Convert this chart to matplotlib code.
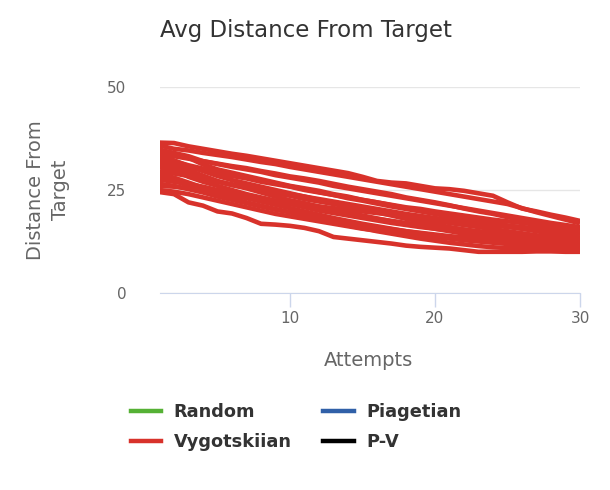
#!/usr/bin/env python3

import matplotlib
matplotlib.use('agg')

import numpy as np
import matplotlib.pyplot as plt

attempts = list(range(1, 31))

# one run per list, all Vygotskiian (the other series are empty)
vygotskiian_runs = [
	[36.5, 36.4, 35.6, 35.0, 34.4, 33.8, 33.3, 32.7, 32.1, 31.5, 30.9, 30.3, 29.7, 29.1, 28.2,
	 27.2, 26.8, 26.6, 26.0, 25.4, 25.2, 24.8, 24.2, 23.6, 22.0, 20.5, 19.8, 19.0, 18.3, 17.5],
	[35.8, 35.0, 34.6, 34.0, 33.5, 33.0, 32.4, 31.8, 31.3, 30.6, 30.0, 29.4, 28.8, 28.2, 27.6,
	 27.0, 26.4, 25.8, 25.2, 24.6, 24.0, 23.4, 22.8, 22.2, 21.6, 20.6, 19.6, 18.7, 17.8, 16.9],
	[34.8, 34.0, 33.2, 32.0, 31.4, 30.8, 30.3, 29.6, 29.0, 28.3, 27.8, 27.2, 26.5, 25.8, 25.2,
	 24.6, 24.0, 23.2, 22.6, 22.0, 21.3, 20.5, 19.8, 19.2, 18.4, 17.8, 17.0, 16.3, 15.6, 15.0],
	[34.0, 33.5, 32.8, 31.2, 30.0, 29.2, 28.4, 27.6, 26.8, 26.0, 25.4, 24.8, 24.0, 23.4, 22.6,
	 22.0, 21.3, 20.6, 20.0, 19.3, 18.6, 18.0, 17.4, 16.8, 16.2, 15.6, 15.0, 14.4, 13.9, 13.4],
	[33.5, 33.2, 32.6, 32.0, 31.3, 30.6, 30.0, 29.4, 28.6, 28.0, 27.4, 26.8, 26.0, 25.4, 24.8,
	 24.2, 23.6, 23.0, 22.4, 21.8, 21.2, 20.6, 20.0, 19.4, 18.8, 18.2, 17.6, 17.0, 16.5, 16.0],
	[33.0, 32.2, 30.8, 29.6, 28.4, 27.4, 26.6, 25.8, 25.0, 24.2, 23.4, 22.6, 21.8, 21.0, 20.3,
	 19.6, 18.8, 18.0, 17.4, 16.7, 16.0, 15.4, 14.8, 14.2, 13.6, 13.0, 12.6, 12.2, 12.0, 11.8],
	[32.5, 32.0, 31.0, 30.2, 29.4, 28.7, 28.0, 27.3, 26.6, 25.9, 25.2, 24.5, 23.8, 23.0, 22.4,
	 21.7, 21.0, 20.4, 19.8, 19.2, 18.6, 18.0, 17.5, 17.0, 16.4, 15.9, 15.5, 15.1, 14.8, 14.5],
	[32.0, 31.0, 29.8, 28.5, 27.2, 26.2, 25.4, 24.4, 23.4, 22.5, 21.8, 21.0, 20.2, 19.5, 18.8,
	 18.1, 17.4, 16.8, 16.2, 15.6, 15.0, 14.4, 13.8, 13.3, 12.8, 12.3, 11.9, 11.5, 11.2, 11.0],
	[31.5, 31.2, 30.4, 29.8, 29.0, 28.4, 27.8, 27.0, 26.4, 25.8, 25.0, 24.4, 23.8, 23.2, 22.6,
	 22.0, 21.4, 20.8, 20.4, 19.8, 19.3, 18.8, 18.3, 17.8, 17.4, 17.0, 16.6, 16.2, 15.8, 15.5],
	[31.0, 30.2, 29.0, 28.0, 27.0, 26.2, 25.6, 25.0, 24.2, 23.6, 22.8, 22.2, 21.6, 21.0, 20.4,
	 19.8, 19.2, 18.6, 18.0, 17.5, 17.0, 16.5, 16.0, 15.5, 15.0, 14.5, 14.0, 13.6, 13.3, 13.0],
	[30.5, 29.8, 28.2, 27.0, 26.0, 25.0, 24.0, 23.2, 22.4, 21.6, 20.8, 20.0, 19.4, 18.8, 18.2,
	 17.6, 17.0, 16.5, 16.0, 15.6, 15.2, 14.8, 14.4, 14.0, 13.7, 13.4, 13.1, 12.9, 12.7, 12.5],
	[29.5, 29.0, 28.4, 27.8, 27.0, 26.4, 25.8, 25.2, 24.6, 24.0, 23.4, 22.8, 22.2, 21.6, 21.0,
	 20.4, 19.8, 19.2, 18.7, 18.2, 17.7, 17.2, 16.8, 16.4, 16.0, 15.6, 15.2, 14.8, 14.4, 14.0],
	[29.0, 28.0, 26.8, 25.6, 24.6, 23.8, 23.0, 22.2, 21.4, 20.6, 19.8, 19.0, 18.2, 17.5, 16.8,
	 16.2, 15.6, 15.0, 14.5, 14.0, 13.6, 13.2, 12.9, 12.6, 12.3, 12.1, 11.9, 11.7, 11.6, 11.5],
	[28.5, 27.4, 26.0, 25.0, 24.0, 23.0, 22.0, 21.2, 20.4, 19.6, 18.8, 18.0, 17.2, 16.4, 15.7,
	 15.0, 14.4, 13.8, 13.2, 12.7, 12.2, 11.8, 11.4, 11.1, 10.9, 10.8, 10.7, 10.6, 10.5, 10.5],
	[27.5, 27.0, 26.4, 25.8, 25.0, 24.4, 23.6, 23.0, 22.2, 21.6, 21.0, 20.4, 19.8, 19.2, 18.6,
	 18.0, 17.5, 17.0, 16.6, 16.2, 15.8, 15.4, 15.0, 14.7, 14.4, 14.1, 13.8, 13.5, 13.2, 13.0],
	[26.5, 26.0, 25.2, 24.4, 23.4, 22.6, 21.8, 21.0, 20.2, 19.6, 19.0, 18.4, 17.8, 17.2, 16.6,
	 16.0, 15.5, 15.0, 14.6, 14.2, 13.8, 13.5, 13.2, 12.9, 12.7, 12.5, 12.3, 12.2, 12.1, 12.0],
	[26.0, 25.8, 25.4, 25.0, 24.4, 24.0, 23.4, 23.0, 22.4, 22.0, 21.4, 21.0, 20.6, 20.2, 19.8,
	 19.4, 19.0, 18.6, 18.2, 17.8, 17.5, 17.2, 16.9, 16.6, 16.3, 16.0, 15.7, 15.4, 15.2, 15.0],
	[25.0, 24.6, 24.0, 23.2, 22.4, 21.6, 20.8, 20.0, 19.2, 18.6, 18.0, 17.4, 16.8, 16.2, 15.6,
	 15.2, 14.8, 14.4, 14.0, 13.6, 13.2, 12.8, 12.5, 12.2, 11.9, 11.6, 11.4, 11.2, 11.1, 11.0],
	[24.5, 24.0, 22.0, 21.2, 19.8, 19.3, 18.2, 16.8, 16.6, 16.3, 15.8, 15.0, 13.6, 13.2, 12.8,
	 12.4, 12.0, 11.5, 11.2, 11.0, 10.8, 10.4, 10.0, 10.0, 10.0, 10.0, 10.1, 10.1, 10.0, 10.0],
]
random_runs = []
piagetian_runs = []
pv_runs = []

series_names = ['Random', 'Piagetian', 'Vygotskiian', 'P-V']
series_colors = ['#55b135', '#3060a8', '#d8322b', '#000000']
y_ticks = [0, 25, 50]
x_ticks = [10, 20, 30]

fig = plt.figure(figsize=(6.1, 4.9), dpi=100)
ax = fig.add_axes([159.5 / 610, 1 - 293 / 490, (580 - 159.5) / 610, (293 - 87) / 490])

handles = {}
for name, color, runs in zip(series_names, series_colors,
							[random_runs, piagetian_runs, vygotskiian_runs, pv_runs]):
	h, = ax.plot([], [], color=color, lw=3.2)
	handles[name] = h
	for run in runs:
		ax.plot(attempts, run, color=color, lw=3.3, solid_joinstyle='round',
				solid_capstyle='butt')

ax.set_xlim(1, 30)
ax.set_ylim(0, 50)
ax.set_yticks(y_ticks)
ax.set_xticks(x_ticks)
ax.grid(axis='y', color='#e6e6e6', lw=1)
ax.set_axisbelow(True)
for side in ['top', 'right', 'left']:
	ax.spines[side].set_visible(False)
ax.spines['bottom'].set_color('#ccd6eb')
ax.tick_params(axis='y', length=0, pad=24, labelsize=11, labelcolor='#666666')
ax.tick_params(axis='x', length=10, width=1, color='#ccd6eb', pad=3,
			labelsize=11, labelcolor='#666666')

fig.text(306 / 610, 1 - 30 / 490, 'Avg Distance From Target', ha='center', va='center',
		fontsize=16.5, color='#333333')
fig.text(48 / 610, 1 - 190 / 490, 'Distance From\nTarget', ha='center', va='center',
		rotation=90, fontsize=14, color='#666666', linespacing=1.4)
fig.text(368 / 610, 1 - 360 / 490, 'Attempts', ha='center', va='center',
		fontsize=14, color='#666666')

order = ['Random', 'Vygotskiian', 'Piagetian', 'P-V']
leg = fig.legend([handles[n] for n in order], order, ncol=2, loc='center',
				bbox_to_anchor=(296 / 610, 1 - 427 / 490), frameon=False,
				prop={'weight': 'bold', 'size': 12.8}, handlelength=1.7,
				handletextpad=0.7, columnspacing=1.8, labelspacing=0.65)
for t in leg.get_texts():
	t.set_color('#333333')

fig.savefig('out.png', dpi=100)
